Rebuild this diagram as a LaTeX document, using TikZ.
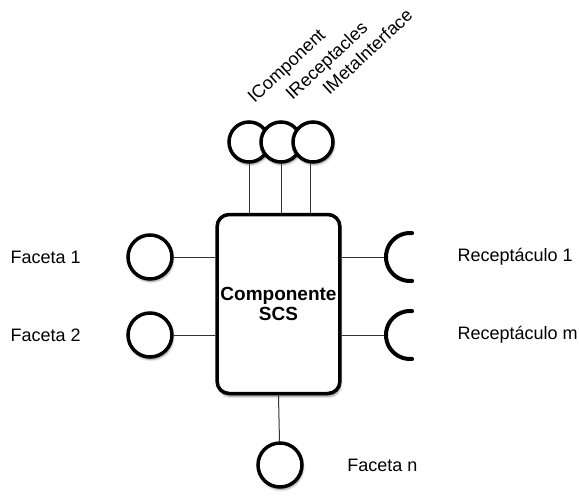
\documentclass[tikz,border=0pt]{standalone}
\usepackage{fontspec}
\setmainfont{Liberation Sans}
\usetikzlibrary{positioning, shadows.blur}

\tikzset{
    port/.style={circle, draw, line width=3.5pt, fill=white, inner sep=0pt,
        minimum size=#1, blur shadow={shadow xshift=1pt, shadow yshift=-2.5pt, shadow blur steps=6, shadow opacity=45}},
    port/.default=44pt,
    cup/.style={line width=4pt, line cap=round},
    wire/.style={line width=1pt, black!80},
    lbl/.style={font=\fontsize{18}{20}\selectfont}
}

\begin{document}
\begin{tikzpicture}[x=1pt, y=-1pt]
    \useasboundingbox (0,0) rectangle (579,499);

    \node[draw, line width=3.5pt, rounded corners=12pt, fill=white,
        minimum width=120pt, minimum height=179pt, align=center,
        font=\fontsize{19}{20}\selectfont\bfseries,
        blur shadow={shadow xshift=1pt, shadow yshift=-3pt, shadow blur steps=6, shadow opacity=45}]
        (comp) at (278.5,304) {Componente\\SCS};

    \node[port=40pt] (iComp) at (249,142) {};
    \node[port=40pt] (iRecep) at (281,142) {};
    \node[port=40pt] (iMeta) at (313,142) {};
    \draw[wire] (comp.north -| iComp) -- (iComp);
    \draw[wire] (comp.north -| iRecep) -- (iRecep);
    \draw[wire] ([xshift=-3pt]comp.north -| iMeta) -- ([xshift=-3pt]iMeta.south);

    \node[lbl, rotate=43, anchor=base west] (lblIComp) at (252,106) {IComponent};
    \node[lbl, rotate=43, anchor=base west] (lblIRecep) at (290,103) {IReceptacles};
    \node[lbl, rotate=43, anchor=base west] (lblIMeta) at (327,98) {IMetaInterface};

    \node[port] (faceta1) at (150,257) {};
    \node[port] (faceta2) at (150,335) {};
    \node[port] (facetaN) at (280,465) {};
    \draw[wire] (faceta1) -- (comp.west |- faceta1);
    \draw[wire] (faceta2) -- (comp.west |- faceta2);
    \draw[wire] (comp.south) -- (facetaN);

    \node[lbl, left=42pt of faceta1] (lblF1) {Faceta 1};
    \node[lbl, left=42pt of faceta2] (lblF2) {Faceta 2};
    \node[lbl, right=40pt of facetaN] (lblFN) {Faceta n};

    \coordinate (recep1) at (386,257);
    \coordinate (recepM) at (386,335);
    \draw[wire] (comp.east |- recep1) -- (recep1);
    \draw[wire] (comp.east |- recepM) -- (recepM);
    \draw[cup] (recep1) arc[start angle=180, end angle=85, radius=24pt]
        (recep1) arc[start angle=180, end angle=275, radius=24pt];
    \draw[cup] (recepM) arc[start angle=180, end angle=85, radius=24pt]
        (recepM) arc[start angle=180, end angle=275, radius=24pt];

    \node[lbl, right=68pt of recep1] (lblR1) {Receptáculo 1};
    \node[lbl, right=68pt of recepM] (lblRM) {Receptáculo m};
\end{tikzpicture}
\end{document}
